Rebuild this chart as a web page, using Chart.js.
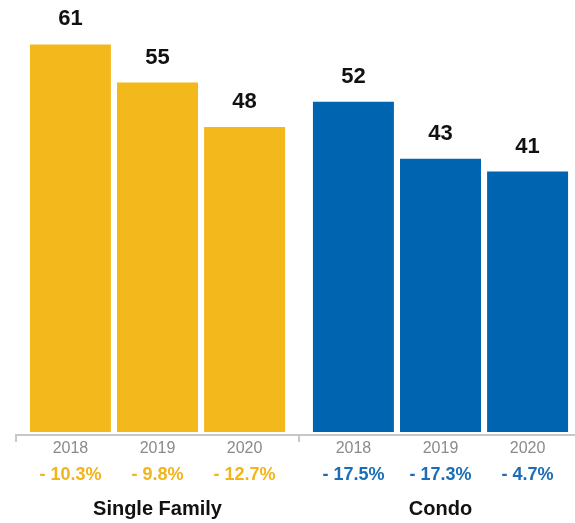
<!DOCTYPE html>
<html>
<head>
<meta charset="utf-8">
<script src="https://cdn.jsdelivr.net/npm/chart.js@4/dist/chart.umd.min.js"></script>
<style>
  html, body { margin: 0; padding: 0; background: #fff; overflow: hidden; }
  #wrap { position: relative; width: 600px; height: 523px; }
</style>
</head>
<body>
<div id="wrap"><canvas id="c"></canvas></div>
<script>
const years = ['2018', '2019', '2020'];
const groups = ['Single Family', 'Condo'];
const singleFamilyValues = [61, 55, 48];
const condoValues = [52, 43, 41];
const singleFamilyChange = ['- 10.3%', '- 9.8%', '- 12.7%'];
const condoChange = ['- 17.5%', '- 17.3%', '- 4.7%'];

const YELLOW = '#F3B81C';
const BLUE = '#0064B1';
const PCT_YELLOW = '#F3B41B';
const PCT_BLUE = '#1B6DB7';

// layout: each group spans 3.25 units, bars centered at 0.625 + i
const GROUP_W = 3.25, OFFSET = 0.625;
function xOf(g, i) { return g * GROUP_W + OFFSET + i; }

const seriesValues = [singleFamilyValues, condoValues];
const seriesChange = [singleFamilyChange, condoChange];
const barColors = [YELLOW, BLUE];
const pctColors = [PCT_YELLOW, PCT_BLUE];

const points = [], colors = [];
seriesValues.forEach((vals, g) => vals.forEach((v, i) => {
  points.push({ x: xOf(g, i), y: v });
  colors.push(barColors[g]);
}));

const datasets = [{
  label: 'Values',
  data: points,
  backgroundColor: colors,
  borderWidth: 0,
  barPercentage: 0.93,
  categoryPercentage: 1.0
}];

const FONT = '"Liberation Sans", Arial, Helvetica, sans-serif';

const labelPlugin = {
  id: 'labels',
  afterDatasetsDraw(chart) {
    const ctx = chart.ctx;
    const xs = chart.scales.x, ys = chart.scales.y;
    const area = chart.chartArea;
    ctx.save();
    // value labels
    ctx.textAlign = 'center';
    ctx.textBaseline = 'alphabetic';
    ctx.fillStyle = '#111';
    ctx.font = 'bold 22px ' + FONT;
    seriesValues.forEach((vals, g) => {
      vals.forEach((v, i) => {
        ctx.fillText(String(v), xs.getPixelForValue(xOf(g, i)), ys.getPixelForValue(v) - 19);
      });
    });
    // axis bracket line
    const axisY = area.bottom + 3;
    ctx.strokeStyle = '#c8c8c8';
    ctx.lineWidth = 2;
    ctx.beginPath();
    ctx.moveTo(xs.getPixelForValue(0), axisY);
    ctx.lineTo(xs.getPixelForValue(groups.length * GROUP_W), axisY);
    ctx.stroke();
    for (let g = 0; g <= groups.length; g++) {
      const px = Math.round(xs.getPixelForValue(g * GROUP_W));
      ctx.beginPath();
      ctx.moveTo(px, axisY - 1);
      ctx.lineTo(px, axisY + 7);
      ctx.stroke();
    }
    // years & percentages
    ctx.textBaseline = 'middle';
    seriesValues.forEach((vals, g) => {
      years.forEach((yr, i) => {
        const px = xs.getPixelForValue(xOf(g, i));
        ctx.fillStyle = '#8a8a8a';
        ctx.font = '16px ' + FONT;
        ctx.fillText(yr, px, 449);
        ctx.fillStyle = pctColors[g];
        ctx.font = 'bold 18px ' + FONT;
        ctx.fillText(seriesChange[g][i], px, 475);
      });
      ctx.fillStyle = '#111';
      ctx.font = 'bold 20px ' + FONT;
      ctx.fillText(groups[g], xs.getPixelForValue(g * GROUP_W + GROUP_W / 2), 509);
    });
    ctx.restore();
  }
};

new Chart(document.getElementById('c'), {
  type: 'bar',
  data: { datasets },
  options: {
    responsive: true,
    maintainAspectRatio: false,
    animation: false,
    layout: { padding: { left: 16, right: 18, top: 0, bottom: 91 } },
    plugins: { legend: { display: false }, tooltip: { enabled: false } },
    scales: {
      x: {
        type: 'linear', min: 0, max: groups.length * GROUP_W, display: false, offset: false,
        afterBuildTicks: (s) => { s.ticks = [{ value: 0 }]; }
      },
      y: { min: 0, max: 68, display: false }
    }
  },
  plugins: [labelPlugin]
});
</script>
</body>
</html>
